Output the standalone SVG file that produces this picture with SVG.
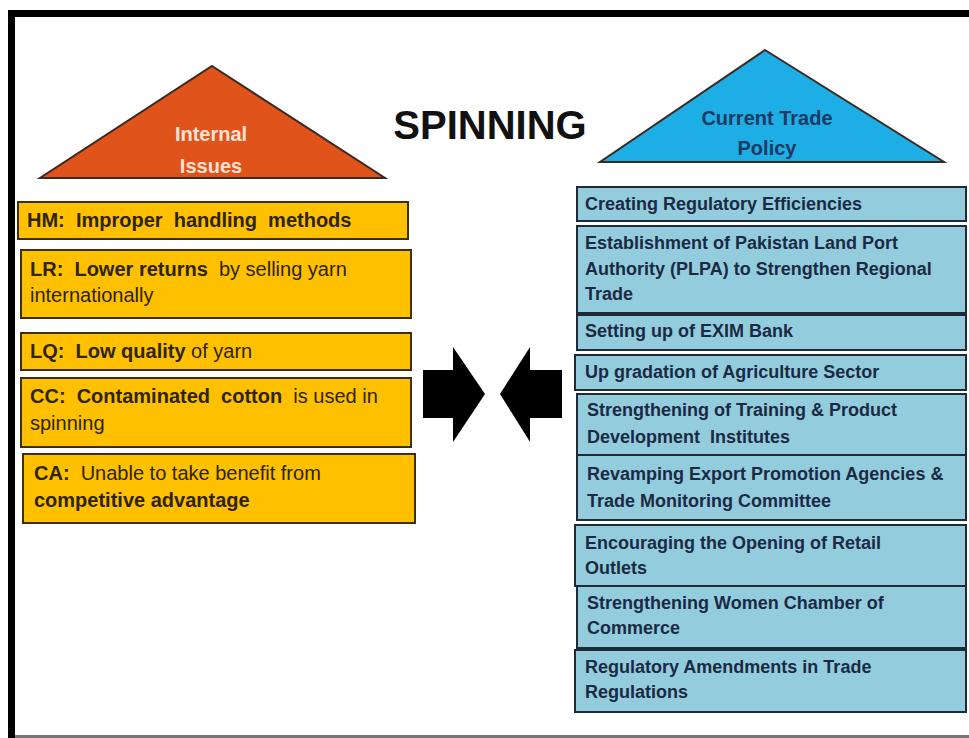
<svg xmlns="http://www.w3.org/2000/svg" width="969" height="738" viewBox="0 0 969 738">
<style>
.lb{fill:#FFC000;stroke:#3a3000;stroke-width:2}
.rb{fill:#93CDDD;stroke:#1e2a35;stroke-width:2}
.lt{font-family:"Liberation Sans",Arial,sans-serif;font-size:20px;fill:#2e2400;white-space:pre}
.rt{font-family:"Liberation Sans",Arial,sans-serif;font-size:18px;font-weight:bold;fill:#1b2a44;white-space:pre}
.b{font-weight:bold}
.tri{stroke:#3a2a20;stroke-width:2}
.tt{font-family:"Liberation Sans",Arial,sans-serif;font-size:20px;font-weight:bold}
</style>
<rect x="0" y="0" width="969" height="738" fill="#ffffff"/>
<g id="frame">
<rect x="8" y="10" width="961" height="7" fill="#000"/>
<rect x="8" y="10" width="7" height="728" fill="#000"/>
<rect x="15" y="735" width="954" height="3" fill="#777"/>
</g>
<text id="title" x="490" y="139" text-anchor="middle" font-family="Liberation Sans,Arial,sans-serif" font-size="40" font-weight="bold" fill="#111">SPINNING</text>
<g id="internal-issues">
<polygon class="tri" points="212,66 385,178 40,178" fill="#E0541C"/>
<text class="tt" x="211" y="141" text-anchor="middle" fill="#FCE3D6">Internal</text>
<text class="tt" x="211" y="173" text-anchor="middle" fill="#FCE3D6">Issues</text>
</g>
<g id="current-trade-policy">
<polygon class="tri" points="765,50 944,162 600,162" fill="#1CAEE4"/>
<text class="tt" x="767" y="125" text-anchor="middle" fill="#1F3864">Current Trade</text>
<text class="tt" x="767" y="155" text-anchor="middle" fill="#1F3864">Policy</text>
</g>
<g id="hm"><rect class="lb" x="18" y="202" width="390" height="37"/>
<text class="lt" x="27" y="227"><tspan class="b">HM:  Improper  handling  methods</tspan></text></g>
<g id="lr"><rect class="lb" x="21" y="250" width="390" height="68"/>
<text class="lt" x="30" y="276"><tspan class="b">LR:  Lower returns</tspan>  by selling yarn</text>
<text class="lt" x="30" y="302">internationally</text></g>
<g id="lq"><rect class="lb" x="21" y="333" width="390" height="37"/>
<text class="lt" x="30" y="358"><tspan class="b">LQ:  Low quality</tspan> of yarn</text></g>
<g id="cc"><rect class="lb" x="21" y="378" width="390" height="69"/>
<text class="lt" x="30" y="403"><tspan class="b">CC:  Contaminated  cotton</tspan>  is used in</text>
<text class="lt" x="30" y="430">spinning</text></g>
<g id="ca"><rect class="lb" x="23" y="454" width="392" height="69"/>
<text class="lt" x="34" y="480"><tspan class="b">CA:</tspan>  Unable to take benefit from</text>
<text class="lt" x="34" y="507"><tspan class="b">competitive advantage</tspan></text></g>
<g id="connectors">
<polygon points="423,370 453,370 453,347 485,394 453,442 453,418 423,418" fill="#000"/>
<polygon points="562,370 530,370 530,347 500,394 530,442 530,418 562,418" fill="#000"/>
</g>
<g id="p1"><rect class="rb" x="577" y="187" width="389" height="34"/>
<text class="rt" x="585" y="210">Creating Regulatory Efficiencies</text></g>
<g id="p2"><rect class="rb" x="577" y="226" width="389" height="87"/>
<text class="rt" x="585" y="249">Establishment of Pakistan Land Port</text>
<text class="rt" x="585" y="275">Authority (PLPA) to Strengthen Regional</text>
<text class="rt" x="585" y="300">Trade</text></g>
<g id="p3"><rect class="rb" x="577" y="315" width="389" height="35"/>
<text class="rt" x="585" y="337">Setting up of EXIM Bank</text></g>
<g id="p4"><rect class="rb" x="575" y="355" width="391" height="35"/>
<text class="rt" x="585" y="378">Up gradation of Agriculture Sector</text></g>
<g id="p5"><rect class="rb" x="577" y="394" width="389" height="61"/>
<text class="rt" x="587" y="416">Strengthening of Training &amp; Product</text>
<text class="rt" x="587" y="443">Development  Institutes</text></g>
<g id="p6"><rect class="rb" x="577" y="455" width="389" height="65"/>
<text class="rt" x="587" y="480">Revamping Export Promotion Agencies &amp;</text>
<text class="rt" x="587" y="507">Trade Monitoring Committee</text></g>
<g id="p7"><rect class="rb" x="575" y="525" width="391" height="61"/>
<text class="rt" x="585" y="549">Encouraging the Opening of Retail</text>
<text class="rt" x="585" y="574">Outlets</text></g>
<g id="p8"><rect class="rb" x="577" y="586" width="389" height="62"/>
<text class="rt" x="587" y="609">Strengthening Women Chamber of</text>
<text class="rt" x="587" y="634">Commerce</text></g>
<g id="p9"><rect class="rb" x="575" y="650" width="391" height="62"/>
<text class="rt" x="585" y="673">Regulatory Amendments in Trade</text>
<text class="rt" x="585" y="698">Regulations</text></g>
</svg>
